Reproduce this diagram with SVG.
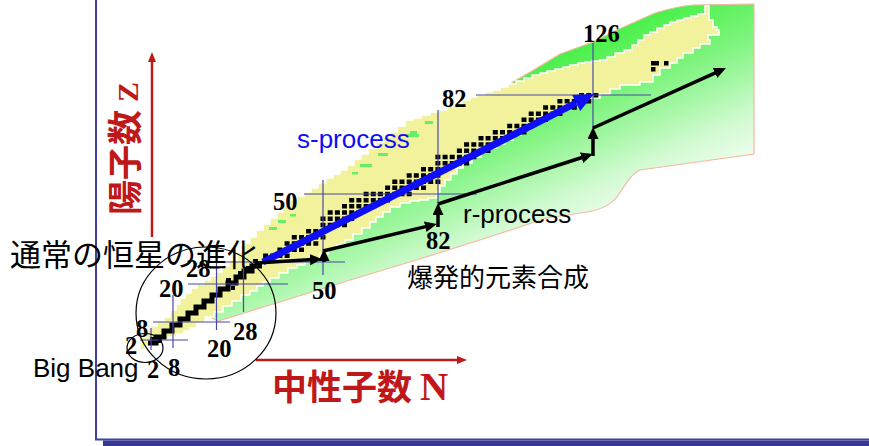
<svg xmlns="http://www.w3.org/2000/svg" width="869" height="446" viewBox="0 0 869 446">
<style>
.num{font-family:"Liberation Serif","Times New Roman",serif;font-weight:bold;font-size:24.5px;fill:#000}
.lat{font-family:"Liberation Sans",Arial,sans-serif;font-size:26px}
.jp{font-family:"Noto Sans CJK JP",sans-serif;fill:#000}
.axl{font-family:"Noto Sans CJK JP",sans-serif;font-weight:bold;fill:#c01818}
.magic{stroke:#4848a8;stroke-width:1.2;fill:none}
.rarr{stroke:#000;stroke-width:3.5;fill:none;marker-end:url(#ah)}
.circ{fill:none;stroke:#000;stroke-width:1.2}
.dash{fill:#66ee66}
</style>
<defs>
<linearGradient id="gg" gradientUnits="userSpaceOnUse" x1="600" y1="30" x2="680" y2="210">
<stop offset="0" stop-color="#44f044"/>
<stop offset="0.35" stop-color="#80f480"/>
<stop offset="0.7" stop-color="#d0fad0"/>
<stop offset="1" stop-color="#ffffff"/>
</linearGradient>
<marker id="ah" markerUnits="userSpaceOnUse" markerWidth="14" markerHeight="12" refX="7" refY="5.5" orient="auto">
<path d="M0,0 L12,5.5 L0,11 z" fill="#000"/>
</marker>
<marker id="redah" markerUnits="userSpaceOnUse" markerWidth="12" markerHeight="10" refX="2" refY="4" orient="auto">
<path d="M0,0 L10,4 L0,8 z" fill="#c01818"/>
</marker>
</defs>
<rect width="869" height="446" fill="#fff"/>

<g id="frame">
<line x1="96" y1="0" x2="96" y2="440" stroke="#4040a4" stroke-width="2"/>
<line x1="95" y1="439.5" x2="869" y2="439.5" stroke="#4040a4" stroke-width="1.8"/>
<rect x="103" y="440.5" width="766" height="5.5" fill="#383894"/>
</g>

<g id="axes">
<line x1="152" y1="237" x2="152" y2="60" stroke="#c01818" stroke-width="2.5" marker-end="url(#redah)"/>
<line x1="256" y1="360" x2="459" y2="360" stroke="#c01818" stroke-width="2.5" marker-end="url(#redah)"/>
<text class="axl" font-size="35" transform="translate(138,215) rotate(-90)">陽子数 <tspan font-family="'Liberation Serif',serif" font-size="30">Z</tspan></text>
<text class="axl" font-size="35" x="272" y="400">中性子数 <tspan font-family="'Liberation Serif',serif" font-size="39">N</tspan></text>
</g>

<g id="chart">
<path d="M754,4 L693,5 C680,6 668,9 655,13 L617,30 L593,42 L560,54 L537,68 L513,82 L500,93 L470,106 L440,118 L410,128 L385,148 L350,176 L300,207 L265,238 L250,252 L235,268 L220,283 L212,298 L212,318 L218,321 L280,302 L347,281 L413,261 L480,240 L547,218 L587,212 C598,210 610,206 617,197 C625,185 632,173 640,170 L754,154 Z" fill="url(#gg)" stroke="#f5b8a0" stroke-width="1.2"/>
<path d="M140,350 V343 V337 H146 V330 H150 V326 H157 V321 H164 V317 H170 V310 H176 V304 H180 V298 H185 V293 H191 V288 H197 V284 H204 V280 H210 V276 H216 V272 H222 V266 H229 V260 H237 V252 H243 V243 H250 V237 H256 V230 H263 V224 H270 V218 H277 V212 H283 V206 H290 V200 H297 V196 H304 V192 H311 V188 H318 V183 H326 V178 H333 V174 H340 V170 H347 V165 H354 V159 H361 V154 H368 V148 H376 V142 H383 V137 H390 V132 H397 V126 H405 V120 H413 V118 H421 V115 H430 V112 H438 V110 H447 V106 H454 V103 H462 V100 H470 V97 H477 V95 H485 V92 H492 V90 H500 V87 H508 V84 H516 V81 H524 V78 H532 V75 H540 V73 H547 V71 H555 V69 H563 V67 H570 V65 H578 V63 H585 V62 H592 V61 H600 V60 H607 V57 H615 V53 H624 V50 H632 V45 H638 V40 H644 V35 H650 V32 H657 V28 H664 V25 H670 V22 H677 V20 H684 V18 H691 V16 H698 V14 H705 V6 H709 V20 H713 V27 H717 V30 H719 V35 H708 V40 H710 V44 H700 V48 H693 V53 H683 V58 H677 V63 H670 V68 H660 V75 H653 V82 H640 V85 H620 V89 H610 V94 H600 V98 H590 V101 H580 V104 H572 V108 H564 V112 H555 V116 H547 V120 H538 V125 H530 V130 H521 V135 H513 V140 H505 V144 H497 V148 H490 V152 H481 V157 H472 V163 H463 V168 H457 V174 H451 V180 H445 V186 H440 V192 H437 V198 H428 V200 H419 V201 H410 V203 H400 V207 H390 V212 H383 V217 H376 V222 H370 V228 H362 V234 H353 V240 H345 V245 H337 V249 H328 V254 H320 V258 H312 V261 H305 V265 H297 V268 H288 V273 H279 V278 H270 V282 H263 V286 H257 V291 H250 V295 H241 V301 H232 V306 H223 V312 H214 V317 H205 V323 H197 V328 H190 V331 H184 V334 H177 V337 H168 V340 H160 V343 H152 V346 H145 V350 Z" fill="#f2f29c" stroke="#ffffff" stroke-width="1.5"/>
<rect class="dash" x="407" y="134" width="12" height="3"/>
<rect class="dash" x="425" y="121" width="8" height="3"/>
<rect class="dash" x="410" y="131" width="7" height="3"/>
<rect class="dash" x="378" y="153" width="10" height="3"/>
<rect class="dash" x="360" y="164" width="12" height="3"/>
<rect class="dash" x="352" y="172" width="6" height="2.5"/>
<rect class="dash" x="290" y="214" width="6" height="2.5"/>
<rect class="dash" x="278" y="220" width="8" height="3"/>
<rect class="dash" x="269" y="227" width="8" height="3"/>
<path d="M148,343 H156 V337 H164 V331 H172 V325 H180 V319 H188 V313 H196 V307 H204 V301 H212 V295 H220 V289 H228 V283 H236 V277 H244 V271 H252 V266 H262" fill="none" stroke="#000" stroke-width="5"/>
<path fill="#000" d="M150,337h4v4h-4z M158,339h4v4h-4z M226,278h5v4h-5z M238,271h4v4h-4z M231,286h4v4h-4z M246,266h5v4h-5z M253,259h5v4h-5z
M263.1,253.5h5v4.5h-5z M270.2,253.5h5v4.5h-5z M277.4,253.5h5v4.5h-5z M284.6,253.5h5v4.5h-5z
M277.4,247.4h5v4.5h-5z M284.6,247.4h5v4.5h-5z M291.8,247.4h5v4.5h-5z M299,247.4h5v4.5h-5z
M284.6,241.2h5v4.5h-5z M291.8,241.2h5v4.5h-5z M299,241.2h5v4.5h-5z M306.1,241.2h5v4.5h-5z M313.3,241.2h5v4.5h-5z
M291.8,235h5v4.5h-5z M299,235h5v4.5h-5z M306.1,235h5v4.5h-5z M313.3,235h5v4.5h-5z M320.5,235h5v4.5h-5z
M306.1,228.9h5v4.5h-5z M313.3,228.9h5v4.5h-5z M320.5,228.9h5v4.5h-5z
M320.5,222.7h5v4.5h-5z M327.7,222.7h5v4.5h-5z M334.9,222.7h5v4.5h-5z M342,222.7h5v4.5h-5z
M320.5,216.5h5v4.5h-5z M327.7,216.5h5v4.5h-5z M334.9,216.5h5v4.5h-5z M342,216.5h5v4.5h-5z M349.2,216.5h5v4.5h-5z
M327.7,210.3h5v4.5h-5z M334.9,210.3h5v4.5h-5z M342,210.3h5v4.5h-5z M349.2,210.3h5v4.5h-5z M356.4,210.3h5v4.5h-5z
M342,204.1h5v4.5h-5z M349.2,204.1h5v4.5h-5z M356.4,204.1h5v4.5h-5z M363.6,204.1h5v4.5h-5z M370.8,204.1h5v4.5h-5z
M349.2,198h5v4.5h-5z M356.4,198h5v4.5h-5z M363.6,198h5v4.5h-5z M370.8,198h5v4.5h-5z M377.9,198h5v4.5h-5z M385.1,198h5v4.5h-5z
M363.6,191.8h5v4.5h-5z M370.8,191.8h5v4.5h-5z M377.9,191.8h5v4.5h-5z M385.1,191.8h5v4.5h-5z M392.3,191.8h5v4.5h-5z M399.5,191.8h5v4.5h-5z M406.7,191.8h5v4.5h-5z
M385.1,185.6h5v4.5h-5z M392.3,185.6h5v4.5h-5z M399.5,185.6h5v4.5h-5z M406.7,185.6h5v4.5h-5z M413.8,185.6h5v4.5h-5z M421,185.6h5v4.5h-5z
M392.3,179.4h5v4.5h-5z M399.5,179.4h5v4.5h-5z M406.7,179.4h5v4.5h-5z M413.8,179.4h5v4.5h-5z M421,179.4h5v4.5h-5z M428.2,179.4h5v4.5h-5z M435.4,179.4h5v4.5h-5z
M406.7,173.2h5v4.5h-5z M413.8,173.2h5v4.5h-5z M421,173.2h5v4.5h-5z M428.2,173.2h5v4.5h-5z M435.4,173.2h5v4.5h-5z
M421,167.1h5v4.5h-5z M428.2,167.1h5v4.5h-5z M435.4,167.1h5v4.5h-5z M442.6,167.1h5v4.5h-5z
M435.4,160.9h5v4.5h-5z M442.6,160.9h5v4.5h-5z M449.7,160.9h5v4.5h-5z M456.9,160.9h5v4.5h-5z M464.1,160.9h5v4.5h-5z
M435.4,154.7h5v4.5h-5z M442.6,154.7h5v4.5h-5z M449.7,154.7h5v4.5h-5z M456.9,154.7h5v4.5h-5z M464.1,154.7h5v4.5h-5z M471.3,154.7h5v4.5h-5z
M456.9,148.5h5v4.5h-5z M464.1,148.5h5v4.5h-5z M471.3,148.5h5v4.5h-5z M478.5,148.5h5v4.5h-5z M485.6,148.5h5v4.5h-5z
M464.1,142.3h5v4.5h-5z M471.3,142.3h5v4.5h-5z M478.5,142.3h5v4.5h-5z M485.6,142.3h5v4.5h-5z M492.8,142.3h5v4.5h-5z
M478.5,136.1h5v4.5h-5z M485.6,136.1h5v4.5h-5z M492.8,136.1h5v4.5h-5z M500,136.1h5v4.5h-5z
M492.8,130h5v4.5h-5z M500,130h5v4.5h-5z M507.2,130h5v4.5h-5z M514.4,130h5v4.5h-5z M521.5,130h5v4.5h-5z
M507.2,123.8h5v4.5h-5z M514.4,123.8h5v4.5h-5z M521.5,123.8h5v4.5h-5z M528.7,123.8h5v4.5h-5z
M521.5,117.6h5v4.5h-5z M528.7,117.6h5v4.5h-5z M535.9,117.6h5v4.5h-5z M543.1,117.6h5v4.5h-5z
M528.7,111.4h5v4.5h-5z M535.9,111.4h5v4.5h-5z M543.1,111.4h5v4.5h-5z M550.3,111.4h5v4.5h-5z M557.4,111.4h5v4.5h-5z
M543.1,105.3h5v4.5h-5z M550.3,105.3h5v4.5h-5z M557.4,105.3h5v4.5h-5z M564.6,105.3h5v4.5h-5z M571.8,105.3h5v4.5h-5z
M557.4,99.1h5v4.5h-5z M564.6,99.1h5v4.5h-5z M571.8,99.1h5v4.5h-5z M579,99.1h5v4.5h-5z M586.2,99.1h5v4.5h-5z
M579,92.9h5v4.5h-5z M586.2,92.9h5v4.5h-5z M593.3,92.9h5v4.5h-5z
M651,61h8v4.5h-8z M664,61h4.5v4.5h-4.5z M651,67h4.5v4.5h-4.5z"/>
</g>

<g id="magic-lines">
<line class="magic" x1="593" y1="43" x2="593" y2="128"/>
<line class="magic" x1="438" y1="110" x2="438" y2="203"/>
<line class="magic" x1="323" y1="180" x2="323" y2="275"/>
<line class="magic" x1="243.5" y1="247" x2="243.5" y2="312"/>
<line class="magic" x1="216.5" y1="263" x2="216.5" y2="330"/>
<line class="magic" x1="173" y1="295" x2="173" y2="348"/>
<line class="magic" x1="151" y1="328" x2="151" y2="350"/>
<line class="magic" x1="476" y1="95" x2="651" y2="95"/>
<line class="magic" x1="304" y1="194" x2="477" y2="194"/>
<line class="magic" x1="210" y1="262" x2="345" y2="262"/>
<line class="magic" x1="188" y1="284" x2="288" y2="284"/>
<line class="magic" x1="153" y1="322" x2="230" y2="322"/>
<line class="magic" x1="140" y1="340" x2="188" y2="340"/>
</g>

<g id="regions">
<ellipse class="circ" cx="206" cy="313" rx="70" ry="66"/>
<ellipse class="circ" cx="145" cy="348" rx="18" ry="14.5"/>
</g>

<g id="connectors">
<line x1="263" y1="262" x2="576" y2="103" stroke="#0f0ff5" stroke-width="7"/>
<polygon points="594,94 580.3,111.1 572.1,95" fill="#0f0ff5"/>
<line class="rarr" x1="256" y1="263" x2="317" y2="259.3"/>
<line class="rarr" x1="324" y1="262" x2="324" y2="254"/>
<line class="rarr" x1="323" y1="251" x2="432" y2="225.1"/>
<line class="rarr" x1="438" y1="227" x2="438" y2="208"/>
<line class="rarr" x1="438" y1="204" x2="588.2" y2="155.5"/>
<line class="rarr" x1="593" y1="156" x2="593" y2="132"/>
<line class="rarr" x1="593" y1="128" x2="721.4" y2="70.1"/>
</g>

<g id="labels">
<text class="lat" x="297" y="148" fill="#0f0ff5">s-process</text>
<text class="lat" x="463" y="223" fill="#000">r-process</text>
<text class="lat" x="33" y="377" fill="#000">Big Bang</text>
<text class="jp" x="10" y="266" font-size="31">通常の恒星の進化</text>
<text class="jp" x="407" y="287" font-size="26">爆発的元素合成</text>
<text class="num" x="583" y="42">126</text>
<text class="num" x="442" y="107">82</text>
<text class="num" x="273" y="210">50</text>
<text class="num" x="426" y="249">82</text>
<text class="num" x="312" y="299">50</text>
<text class="num" x="186" y="277">28</text>
<text class="num" x="159" y="297">20</text>
<text class="num" x="136" y="337">8</text>
<text class="num" x="125" y="354">2</text>
<text class="num" x="233" y="340">28</text>
<text class="num" x="207" y="357">20</text>
<text class="num" x="168" y="376">8</text>
<text class="num" x="147" y="378">2</text>
</g>
</svg>
